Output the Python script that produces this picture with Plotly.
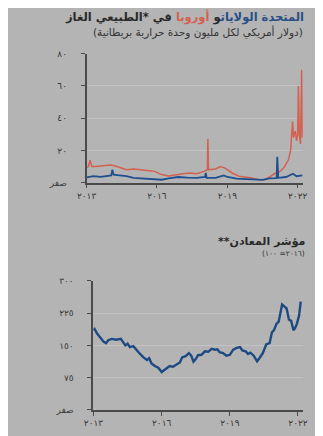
import plotly.graph_objects as go

# The page body adds an 8px margin; the figure is sized to fit the window with it.
OFF = 8
W, H = 323 - OFF, 436 - OFF

# ---- Data: natural gas (USD per MMBtu) ----
eu_x = [2013.0, 2013.08, 2013.15, 2013.22, 2013.4, 2013.7, 2014.0, 2014.2, 2014.5, 2014.7,
        2015.0, 2015.3, 2015.6, 2015.9, 2016.2, 2016.5, 2016.8, 2017.1, 2017.4, 2017.7,
        2018.0, 2018.15, 2018.17, 2018.2, 2018.5, 2018.7, 2018.9, 2019.2, 2019.5, 2019.8,
        2020.0, 2020.3, 2020.6, 2020.8, 2021.0, 2021.2, 2021.4, 2021.6, 2021.7, 2021.78,
        2021.82, 2021.9, 2021.95, 2022.0, 2022.03, 2022.07, 2022.12, 2022.17, 2022.2]
eu_y = [9.5, 10, 14, 10, 10, 10.5, 11, 10.5, 9, 8,
        8.5, 8.2, 7.5, 7, 5, 4.2, 5, 5.5, 6, 5.5,
        7, 8, 27, 8, 8.5, 10, 9, 6, 4, 3.5,
        3, 2, 1.8, 3.5, 5.5, 6.5, 9, 14, 20, 38,
        28, 32, 26, 30, 60, 30, 24, 70, 28]

us_x = [2013.0, 2013.3, 2013.6, 2013.9, 2014.05, 2014.1, 2014.15, 2014.4, 2014.7, 2015.0,
        2015.4, 2015.8, 2016.2, 2016.5, 2016.9, 2017.3, 2017.7, 2018.05, 2018.08, 2018.12,
        2018.5, 2018.85, 2019.0, 2019.4, 2019.8, 2020.2, 2020.5, 2020.8, 2021.1, 2021.13,
        2021.17, 2021.5, 2021.8, 2021.95, 2022.1, 2022.2]
us_y = [3.3, 4, 3.6, 4, 4.5, 8, 5, 4.5, 4, 3,
        2.7, 2.2, 1.8, 2.7, 3.5, 3.1, 2.9, 3.5, 6, 3,
        2.9, 4.5, 3.5, 2.5, 2.3, 1.8, 1.7, 2.6, 2.8, 16,
        3, 3.5, 5.5, 4, 4.5, 4.5]

# ---- Data: metals index (2016 = 100) ----
met_x = [2013.0, 2013.05, 2013.15, 2013.3, 2013.45, 2013.55, 2013.65, 2013.8, 2014.0, 2014.2,
         2014.3, 2014.4, 2014.5, 2014.6, 2014.75, 2014.9, 2015.05, 2015.2, 2015.35, 2015.45,
         2015.55, 2015.7, 2015.85, 2016.0, 2016.1, 2016.2, 2016.35, 2016.5, 2016.65, 2016.8,
         2016.9, 2017.05, 2017.2, 2017.3, 2017.4, 2017.5, 2017.6, 2017.75, 2017.9, 2018.05,
         2018.2, 2018.35, 2018.45, 2018.55, 2018.7, 2018.85, 2019.0, 2019.15, 2019.3, 2019.45,
         2019.55, 2019.7, 2019.8, 2019.9, 2020.05, 2020.2, 2020.3, 2020.45, 2020.6, 2020.75,
         2020.85, 2020.95, 2021.05, 2021.15, 2021.3, 2021.4, 2021.5, 2021.6, 2021.7, 2021.8,
         2021.87, 2021.95, 2022.05, 2022.12]
met_y = [185, 188, 178, 168, 158, 155, 162, 165, 163, 165,
         158, 150, 154, 146, 148, 138, 130, 122, 116, 120,
         108, 102, 98, 88, 92, 97, 102, 100, 105, 110,
         122, 125, 132, 126, 112, 118, 127, 128, 136, 135,
         142, 140, 141, 134, 132, 126, 128, 140, 144, 146,
         138, 136, 130, 133, 126, 113, 120, 132, 152, 155,
         180, 186, 200, 205, 245, 240, 236, 210, 207, 185,
         190, 200, 220, 252]

x_ticks = [2013, 2016, 2019, 2022]
x_labels = ["٢٠١٣", "٢٠١٦", "٢٠١٩", "٢٠٢٢"]
gas_ticks = [0, 20, 40, 60, 80]
gas_labels = ["صفر", "٢٠", "٤٠", "٦٠", "٨٠"]
met_ticks = [0, 75, 150, 225, 300]
met_labels = ["صفر", "٧٥", "١٥٠", "٢٢٥", "٣٠٠"]

# titles (chunks of the first title are given in visual left-to-right order)
title_us = "المتحدة الولايات"
title_and = "و"
title_eu = "أوروبا"
title_gas = "في *الطبيعي الغاز"
subtitle_gas = "(دولار أمريكي لكل مليون وحدة حرارية بريطانية)"
title_met = "**مؤشر المعادن"
subtitle_met = "(٢٠١٦= ١٠٠)"

BG = "#b4b4b4"
AX = "#4a4a4a"
RED = "#d4604f"
BLUE = "#1f4f8f"
TXT = "#2a2a2a"
FONT = "DejaVu Sans"

# window pixel -> paper fraction
def px(x):
    return (x - OFF) / W

def py(y):
    return 1 - (y - OFF) / H

fig = go.Figure()
fig.add_trace(go.Scatter(x=eu_x, y=eu_y, mode="lines", line=dict(color=RED, width=1.5),
                         xaxis="x", yaxis="y", showlegend=False))
fig.add_trace(go.Scatter(x=us_x, y=us_y, mode="lines", line=dict(color=BLUE, width=1.8),
                         xaxis="x", yaxis="y", showlegend=False))
fig.add_trace(go.Scatter(x=met_x, y=met_y, mode="lines", line=dict(color="#1d4a82", width=2.4),
                         xaxis="x2", yaxis="y2", showlegend=False))

x1_lo, x1_hi = 80, 307
k1 = (301.7 - 80) / 9
x2_lo, x2_hi = 87, 307
k2 = (302 - 87.3) / 9

common_x = dict(tickmode="array", tickvals=x_ticks, ticktext=x_labels, showgrid=False,
                zeroline=False, showline=True, linecolor=AX, linewidth=1.5,
                ticks="outside", ticklen=4, tickcolor=AX,
                tickfont=dict(family=FONT, size=9, color="#3a3a3a"))
common_y = dict(tickmode="array", showgrid=True, gridcolor="#c2c2c2", gridwidth=1,
                zeroline=False, showline=True, linecolor=AX, linewidth=1.5,
                ticks="outside", ticklen=4, tickcolor=AX, ticklabelstandoff=12,
                tickfont=dict(family=FONT, size=9, color="#3a3a3a"))

fig.update_layout(
    width=W, height=H, margin=dict(l=0, r=0, t=0, b=0),
    paper_bgcolor=BG, plot_bgcolor=BG,
    xaxis=dict(domain=[px(x1_lo), px(x1_hi)],
               range=[2013 - (80 - x1_lo) / k1, 2013 + (x1_hi - 80) / k1],
               anchor="y", **common_x),
    yaxis=dict(domain=[py(181.7), py(49.7)], range=[0, 80], anchor="x",
               tickvals=gas_ticks, ticktext=gas_labels, **common_y),
    xaxis2=dict(domain=[px(x2_lo), px(x2_hi)],
                range=[2013 - (87.3 - x2_lo) / k2, 2013 + (x2_hi - 87.3) / k2],
                anchor="y2", **common_x),
    yaxis2=dict(domain=[py(414.3), py(282.3)], range=[0, 300], anchor="x2",
                tickvals=met_ticks, ticktext=met_labels, **common_y),
)

def ann(text, x, y, size, color=TXT):
    fig.add_annotation(xref="paper", yref="paper", x=px(x), y=py(y), xanchor="right",
                       yanchor="middle", showarrow=False, align="left", borderpad=0,
                       text=text, font=dict(family=FONT, size=size, color=color))

title1 = (f"<b><span style='color:#2b4f86'>{title_us}</span>"
          f"<span style='color:{TXT}'>{title_and}</span> "
          f"<span style='color:{RED}'>{title_eu}</span> "
          f"<span style='color:{TXT}'>{title_gas}</span></b>")
ann(title1, 309, 12, 11.5)
ann(subtitle_gas, 308, 27, 10.5, "#333333")
ann(f"<b>{title_met}</b>", 310, 242, 11)
ann(subtitle_met, 310, 254, 7.5, "#333333")

fig.write_html("out.html")
